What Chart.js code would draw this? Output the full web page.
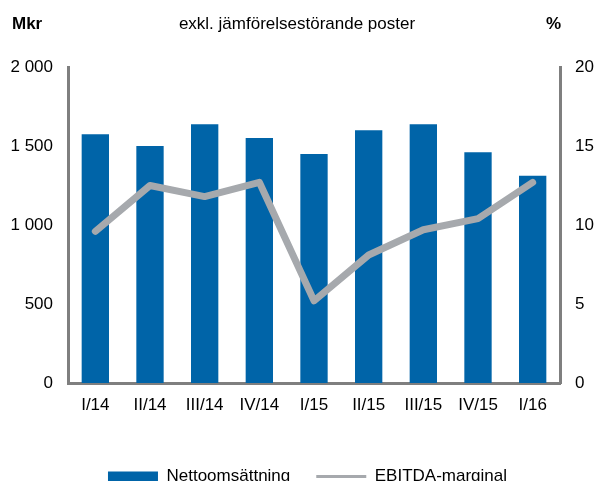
<!DOCTYPE html>
<html>
<head>
<meta charset="utf-8">
<script src="https://cdn.jsdelivr.net/npm/chart.js@4/dist/chart.umd.min.js"></script>
<style>
  html, body { margin: 0; padding: 0; background: #fff; overflow: hidden; }
  #wrap { width: 595px; height: 481px; overflow: hidden; }
  canvas { display: block; }
</style>
</head>
<body>
<div id="wrap"><canvas id="chart" width="615" height="495"></canvas></div>
<script>
// Quarterly data
const quarters = ['I/14', 'II/14', 'III/14', 'IV/14', 'I/15', 'II/15', 'III/15', 'IV/15', 'I/16'];
const netSales = [1575, 1500, 1637, 1550, 1449, 1599, 1637, 1460, 1312];   // Mkr
const ebitdaMargin = [9.6, 12.5, 11.8, 12.7, 5.2, 8.1, 9.7, 10.4, 12.7];  // %
const leftTickLabels = ['0', '500', '1 000', '1 500', '2 000'];
const rightTickLabels = ['0', '5', '10', '15', '20'];

const BLUE = '#0064A8';
const GREY = '#A6A9AD';
const AXIS = '#7F7F7F';
const FONT = '"Liberation Sans", Arial, sans-serif';

Chart.defaults.font.family = FONT;
Chart.defaults.font.size = 17;
Chart.defaults.color = '#000';

// header texts above the plot
const headerPlugin = {
    id: 'header',
    afterDraw(chart) {
        const ctx = chart.ctx;
        ctx.save();
        ctx.fillStyle = '#000';
        ctx.textBaseline = 'middle';
        ctx.font = 'bold 17px ' + FONT;
        ctx.textAlign = 'left';
        ctx.fillText('Mkr', 12, 24);
        ctx.textAlign = 'right';
        ctx.fillText('%', chart.chartArea.right + 1, 24);
        ctx.font = '17px ' + FONT;
        ctx.textAlign = 'center';
        ctx.fillText('exkl. jämförelsestörande poster', 297, 24);
        ctx.restore();
    }
};

new Chart(document.getElementById('chart'), {
    type: 'bar',
    data: {
        labels: quarters,
        datasets: [{
            type: 'bar',
            label: 'Nettoomsättning',
            data: netSales,
            yAxisID: 'y',
            backgroundColor: BLUE,
            borderWidth: 0,
            barPercentage: 0.5,
            categoryPercentage: 1,
            pointStyle: 'rect',
            order: 2
        }, {
            type: 'line',
            label: 'EBITDA-marginal',
            data: ebitdaMargin,
            yAxisID: 'y1',
            borderColor: GREY,
            backgroundColor: GREY,
            borderWidth: 7,
            borderCapStyle: 'round',
            borderJoinStyle: 'round',
            pointRadius: 0,
            pointHoverRadius: 0,
            pointStyle: 'line',
            tension: 0,
            order: 1
        }]
    },
    options: {
        responsive: false,
        animation: false,
        devicePixelRatio: 1,
        layout: { padding: { top: 67, left: 0, right: 0, bottom: 0 } },
        scales: {
            x: {
                grid: { display: false, drawTicks: false },
                border: { display: true, color: AXIS, width: 3 },
                ticks: { padding: 12, maxRotation: 0, autoSkip: false },
                afterFit(scale) { scale.height = 59; }
            },
            y: {
                position: 'left',
                min: 0,
                max: 2000,
                grid: { display: false, drawTicks: false },
                border: { display: true, color: AXIS, width: 3 },
                ticks: {
                    stepSize: 500,
                    padding: 15,
                    callback: (v) => leftTickLabels[v / 500]
                },
                afterFit(scale) { scale.width = 68; }
            },
            y1: {
                position: 'right',
                min: 0,
                max: 20,
                grid: { display: false, drawTicks: false },
                border: { display: true, color: AXIS, width: 3 },
                ticks: {
                    stepSize: 5,
                    padding: 15,
                    callback: (v) => rightTickLabels[v / 5]
                },
                afterFit(scale) { scale.width = 55; }
            }
        },
        plugins: {
            legend: {
                position: 'bottom',
                labels: {
                    usePointStyle: true,
                    pointStyleWidth: 50,
                    boxHeight: 10,
                    padding: 26,
                    sort: (a, b) => a.datasetIndex - b.datasetIndex,
                    generateLabels(chart) {
                        const items = Chart.defaults.plugins.legend.labels.generateLabels(chart);
                        items.forEach(it => {
                            if (it.text === 'EBITDA-marginal') it.lineWidth = 3;
                        });
                        return items;
                    }
                }
            },
            tooltip: { enabled: false }
        }
    },
    plugins: [headerPlugin]
});
</script>
</body>
</html>
